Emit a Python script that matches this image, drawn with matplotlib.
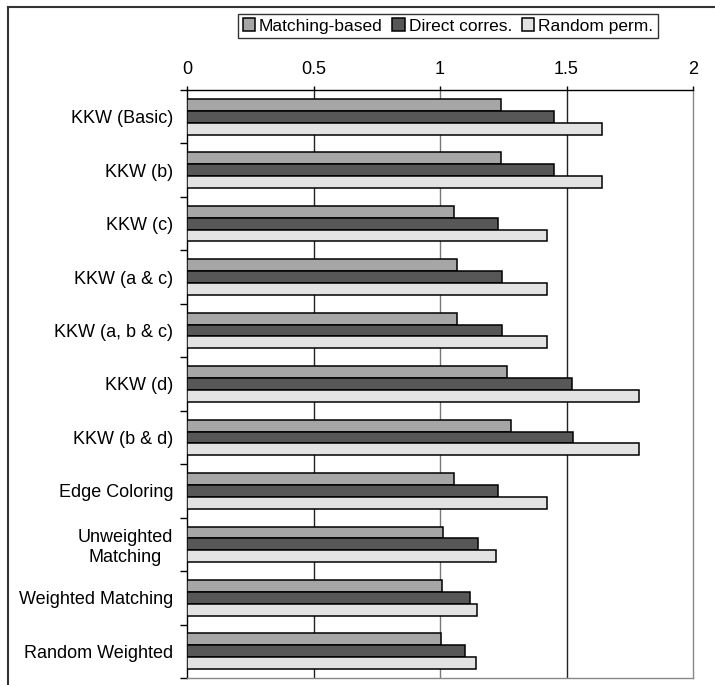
import numpy as np
import matplotlib
matplotlib.use("Agg")
import matplotlib.pyplot as plt
from matplotlib.lines import Line2D

plt.rcParams['font.family'] = ['Liberation Sans', 'DejaVu Sans']

categories = ["KKW (Basic)", "KKW (b)", "KKW (c)", "KKW (a & c)", "KKW (a, b & c)",
              "KKW (d)", "KKW (b & d)", "Edge Coloring", "Unweighted\nMatching",
              "Weighted Matching", "Random Weighted"]
series_names = ["Matching-based", "Direct corres.", "Random perm."]
matching = [1.24, 1.24, 1.055, 1.068, 1.068, 1.264, 1.282, 1.055, 1.012, 1.008, 1.005]
direct = [1.451, 1.45, 1.229, 1.244, 1.244, 1.520, 1.524, 1.229, 1.150, 1.120, 1.097]
random_perm = [1.642, 1.642, 1.424, 1.424, 1.424, 1.788, 1.788, 1.424, 1.223, 1.146, 1.144]
x_ticks = [0, 0.5, 1, 1.5, 2]
x_labels = ["0", "0.5", "1", "1.5", "2"]

colors = ["#a6a6a6", "#575757", "#e3e3e3"]

fig = plt.figure(figsize=(7.15, 6.85), dpi=100)
ax = fig.add_axes([187 / 715, 1 - 678 / 685, (693 - 187) / 715, (678 - 90) / 685])

y = np.arange(len(categories))
h = 0.222
for k, vals in enumerate([matching, direct, random_perm]):
    ax.barh(y + (k - 1) * h, vals, height=h, color=colors[k], edgecolor="black",
            linewidth=1.1, label=series_names[k], zorder=3)

ax.set_xlim(0, 2)
ax.set_ylim(len(categories) - 0.5, -0.5)

ax.xaxis.tick_top()
ax.set_xticks(x_ticks)
ax.set_xticklabels(x_labels, fontsize=13)
ax.tick_params(axis="x", direction="out", length=3, width=1, pad=6)
grid_colors = {0.5: "#222222", 1: "#777777", 1.5: "#222222"}
for xv, c in grid_colors.items():
    ax.axvline(xv, color=c, linewidth=1, zorder=1)

ax.set_yticks(y)
ax.set_yticklabels(categories, fontsize=13, multialignment="center")
ax.tick_params(axis="y", which="major", length=0, pad=10)
ax.set_yticks(np.arange(len(categories) + 1) - 0.5, minor=True)
ax.tick_params(axis="y", which="minor", length=5, width=1, direction="out")

ax.spines["top"].set_color("black")
ax.spines["left"].set_color("black")
ax.spines["right"].set_color("#888888")
ax.spines["bottom"].set_color("#888888")
for s in ax.spines.values():
    s.set_linewidth(1)

leg = fig.legend(loc="center", bbox_to_anchor=(448 / 715, 1 - 26 / 685), ncol=3,
                 fontsize=12.5, frameon=True, fancybox=False, edgecolor="black",
                 handlelength=0.7, handleheight=0.7, handletextpad=0.25,
                 columnspacing=0.55, borderpad=0.25, borderaxespad=0)
leg.get_frame().set_linewidth(1)

# outer frame (top and left edges visible)
fig.add_artist(Line2D([8 / 715, 8 / 715], [0, 1 - 7 / 685], color="#333333", linewidth=1.5,
                      transform=fig.transFigure))
fig.add_artist(Line2D([8 / 715, 1], [1 - 7 / 685, 1 - 7 / 685], color="#333333", linewidth=1.5,
                      transform=fig.transFigure))

fig.savefig("out.png", dpi=100)
